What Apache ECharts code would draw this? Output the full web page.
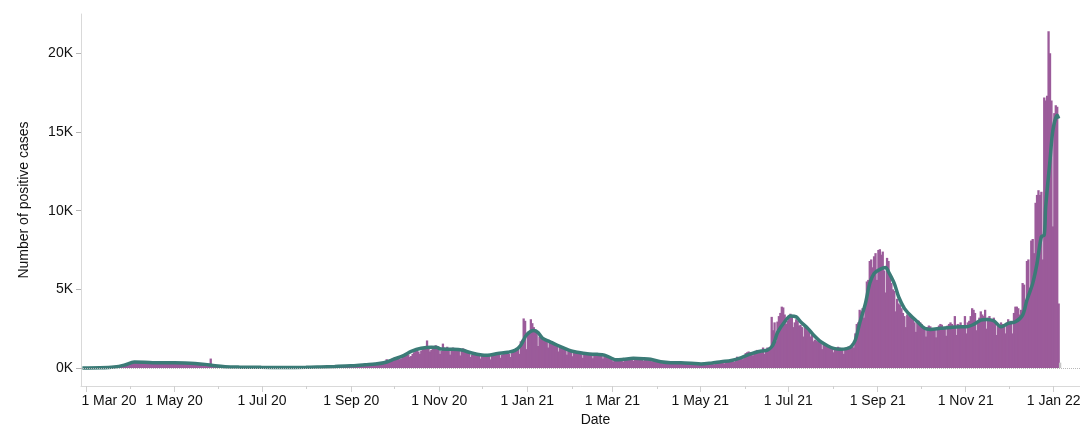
<!DOCTYPE html>
<html><head><meta charset="utf-8">
<script src="https://cdn.jsdelivr.net/npm/echarts@6/dist/echarts.min.js"></script>
<style>html,body{margin:0;padding:0;background:#fff}#c{width:1080px;height:437px}</style>
</head><body><div id="c"></div>
<script>
// ---------- DATA (daily positive cases) ----------
const startDate = '2020-02-27';
const feb20 = [0,5,10];
const mar20 = [3,5,8,6,10,12,15,14,18,20,25,30,35,40,38,45,55,60,70,80,95,90,120,140,160,180,200,220,210,250,280];
const apr20 = [320,350,380,400,360,330,390,420,410,400,380,340,310,360,380,370,390,350,300,280,330,350,340,330,320,290,260,300,340,330];
const may20 = [330,340,310,290,350,360,340,330,320,300,280,330,340,320,300,280,260,240,270,260,240,220,200,190,170,600,150,140,130,120,110];
const jun20 = [90,80,85,75,70,60,55,65,70,60,55,50,45,50,55,50,45,40,45,50,40,35,40,45,40,38,35,40,42,38];
const jul20 = [35,40,38,30,28,35,40,42,38,35,30,28,35,40,45,42,38,32,30,38,42,45,48,44,38,35,42,48,50,52,46];
const aug20 = [45,40,55,60,58,62,65,55,50,60,68,72,70,75,65,60,75,85,90,95,100,90,85,100,115,125,130,135,120,110,130];
const sep20 = [170,180,190,200,180,160,190,210,220,230,240,200,180,220,240,250,260,270,240,220,280,320,360,400,560,450,380,520,600,650];
const oct20 = [640,700,680,560,600,720,780,800,820,850,700,760,900,1000,1100,1150,1050,900,1100,1200,1250,1300,1750,1400,1050,1150,1300,1400,1450,1350,1200];
const nov20 = [900,1100,1550,1300,1250,1350,1200,850,1150,1300,1250,1200,1250,1150,800,1100,1250,1200,1150,1100,1050,700,850,950,1000,950,900,850,600,800];
const dec20 = [850,800,780,820,760,550,800,880,900,950,920,870,650,850,950,1000,1050,980,900,700,950,1050,1100,1150,1200,900,1700,1800,3150,3000,1200];
const jan21 = [2300,2200,3100,2850,2600,2400,2300,1400,2000,1950,1900,1750,1800,1700,1300,1650,1600,1550,1500,1450,1400,1050,1350,1300,1250,1200,1150,850,1100,1050,1000];
const feb21 = [750,1000,980,950,920,900,880,650,900,920,880,900,870,860,620,950,900,880,860,840,830,600,850,820,700,650,600,580];
const mar21 = [420,500,520,540,530,560,500,400,560,580,600,590,620,600,450,640,660,650,630,620,600,450,620,600,590,570,540,420,500,480,460];
const apr21 = [450,420,380,300,330,380,370,360,350,340,260,350,360,350,340,350,330,270,320,320,310,300,300,290,230,280,270,260,260,250];
const may21 = [240,200,190,250,260,270,280,290,280,220,300,320,340,350,360,340,280,380,420,450,470,480,440,380,560,720,700,680,640,560,700];
const jun21 = [950,1000,1050,1000,980,800,950,1100,1150,1100,1080,1000,1300,900,1200,1300,1300,1250,3250,2400,2900,1700,2950,3300,3500,3900,3850,3400,2800,3000];
const jul21 = [3200,3450,3300,2600,2900,3100,3000,2700,2750,2600,2000,2600,2500,2400,2300,2000,2100,1700,1800,1750,1700,1650,1600,1200,1500,1450,1400,1350,1300,1350,1300];
const aug21 = [1000,1250,1300,1350,1300,1250,1150,900,1200,1300,1350,1400,1450,1550,1300,2200,2800,2900,3700,3600,3800,3200,4200,5500,5600,6800,6900,6400,7100,7300,5600];
const sep21 = [7500,7550,7200,7400,6200,4800,7000,6800,5800,5400,5000,4900,3600,4400,4100,4000,3800,3500,3300,2600,3400,3300,3350,3200,3100,2900,2300,3050,3000,2900];
const oct21 = [2800,2600,2500,2000,2600,2700,2650,2550,2500,2450,1950,2550,2700,2800,2750,2600,2500,2050,2700,2800,2900,2800,2700,3300,2100,2800,2750,2900,2700,2650,3300];
const nov21 = [2200,2900,3000,3300,3800,3700,3500,2400,3000,3200,3600,3400,3300,3700,2500,3200,3300,3100,3000,3200,2900,2100,2800,2700,2900,2800,2700,2200,2900,3100];
const dec21 = [2900,3000,2200,3500,3900,3900,3800,3400,3700,5400,5300,4300,6800,6900,5100,8100,8200,7300,10500,11000,11300,11000,11200,6900,17200,17000,17300,21400,20000,17000,9000];
const jan22 = [16200,16700,16600,4100];
const pendingDate = '2022-01-05';
const pendingValue = 340;

// 7-day average line
const avgDates = ['2020-02-27','2020-03-10','2020-03-20','2020-03-27','2020-04-03','2020-04-10','2020-04-17','2020-04-24','2020-05-01','2020-05-08','2020-05-15','2020-05-22','2020-05-29','2020-06-05','2020-06-15','2020-06-30','2020-07-15','2020-07-31','2020-08-10','2020-08-20','2020-08-31','2020-09-10','2020-09-17','2020-09-23','2020-09-30','2020-10-07','2020-10-12','2020-10-19','2020-10-26','2020-10-30','2020-11-02','2020-11-09','2020-11-16','2020-11-23','2020-11-30','2020-12-04','2020-12-11','2020-12-18','2020-12-23','2020-12-27','2020-12-31','2021-01-05','2021-01-08','2021-01-11','2021-01-16','2021-01-21','2021-01-26','2021-01-31','2021-02-04','2021-02-11','2021-02-18','2021-02-23','2021-02-28','2021-03-03','2021-03-08','2021-03-15','2021-03-22','2021-03-27','2021-04-03','2021-04-10','2021-04-17','2021-04-24','2021-05-01','2021-05-08','2021-05-15','2021-05-22','2021-05-29','2021-06-03','2021-06-07','2021-06-12','2021-06-16','2021-06-19','2021-06-21','2021-06-23','2021-06-28','2021-07-02','2021-07-06','2021-07-09','2021-07-14','2021-07-18','2021-07-23','2021-07-28','2021-08-01','2021-08-06','2021-08-10','2021-08-13','2021-08-16','2021-08-19','2021-08-23','2021-08-26','2021-08-29','2021-09-02','2021-09-06','2021-09-08','2021-09-12','2021-09-15','2021-09-19','2021-09-23','2021-09-28','2021-10-03','2021-10-07','2021-10-14','2021-10-21','2021-10-28','2021-11-01','2021-11-06','2021-11-11','2021-11-15','2021-11-20','2021-11-25','2021-11-30','2021-12-05','2021-12-10','2021-12-13','2021-12-17','2021-12-20','2021-12-23','2021-12-25','2021-12-26','2021-12-29','2021-12-31','2022-01-03','2022-01-04'];
const avgValues = [0,10,60,180,380,370,340,330,330,320,290,230,140,80,55,40,38,45,70,100,140,210,250,330,560,800,1050,1250,1320,1300,1200,1190,1140,950,825,810,920,1000,1120,1450,2100,2380,2250,1900,1680,1460,1260,1080,1000,900,870,820,620,520,550,615,590,550,400,340,335,300,250,310,400,480,660,850,970,1080,1140,1350,1700,2250,2940,3300,3250,2940,2520,2100,1670,1400,1250,1185,1230,1350,1780,2840,4110,5380,6010,6270,6390,6115,5380,4530,3790,3365,2940,2520,2455,2520,2580,2620,2620,2770,3050,3090,3000,2620,2840,2940,3365,4320,5380,6650,8340,8450,10240,13200,15110,16060,15850];

// axis ticks
const labelTicks = ['2020-03-01','2020-05-01','2020-07-01','2020-09-01','2020-11-01','2021-01-01','2021-03-01','2021-05-01','2021-07-01','2021-09-01','2021-11-01','2022-01-01'];
const yTicks = [0,5000,10000,15000,20000];

// ---------- BUILD ----------
const DAY = 86400000;
const monthsData = [feb20,mar20,apr20,may20,jun20,jul20,aug20,sep20,oct20,nov20,dec20,jan21,feb21,mar21,apr21,may21,jun21,jul21,aug21,sep21,oct21,nov21,dec21,jan22];
const t0 = Date.parse(startDate + 'T12:00:00Z');
const barData = [];
let k = 0;
monthsData.forEach(m => m.forEach(v => { barData.push([t0 + k * DAY, v]); k++; }));
barData.push({ value: [Date.parse(pendingDate + 'T12:00:00Z'), pendingValue], itemStyle: { color: '#c6c6c6' } });
const lineData = avgDates.map((d, i) => [Date.parse(d + 'T12:00:00Z'), avgValues[i]]);

const MON = ['Jan','Feb','Mar','Apr','May','Jun','Jul','Aug','Sep','Oct','Nov','Dec'];
const fmt = v => { const d = new Date(v); return d.getUTCDate() + ' ' + MON[d.getUTCMonth()] + ' ' + String(d.getUTCFullYear()).slice(2); };
const majorVals = labelTicks.map(s => Date.parse(s + 'T00:00:00Z'));
const minorVals = [];
for (let y = 2020, m = 2; y < 2022 || (y === 2022 && m <= 1); ) {
  minorVals.push(Date.UTC(y, m, 1));
  m++; if (m > 11) { m = 0; y++; }
}
const anchor = Date.UTC(2020, 2, 1);
const xMin = anchor - 3.47 * DAY;
const xMax = anchor + 710.1 * DAY;
const FONT = "'Liberation Sans', Arial, sans-serif";

const chart = echarts.init(document.getElementById('c'), null, { renderer: 'canvas' });
chart.setOption({
  animation: false,
  backgroundColor: '#ffffff',
  grid: { left: 81, right: -30, top: 14, bottom: 51, containLabel: false, outerBoundsMode: 'none' },
  xAxis: [{
    type: 'value', min: xMin, max: xMax, scale: true,
    axisLine: { show: true, onZero: false, lineStyle: { color: '#d9d9d9', width: 1 } },
    axisTick: { show: true, length: 6, customValues: majorVals, lineStyle: { color: '#cfcfcf' } },
    axisLabel: {
      customValues: majorVals, margin: 8, color: '#111', fontSize: 14, fontFamily: FONT,
      formatter: v => (v === majorVals[0] ? '{f|' + fmt(v) + '}' : fmt(v)),
      rich: { f: { padding: [0, 0, 0, 46], fontSize: 14, fontFamily: FONT, color: '#111' } }
    },
    splitLine: { show: false },
    name: 'Date', nameLocation: 'middle', nameGap: 20,
    nameTextStyle: { color: '#111', fontSize: 14, fontFamily: FONT }
  }, {
    type: 'value', min: xMin, max: xMax, scale: true, position: 'bottom',
    axisLine: { show: false, onZero: false },
    axisTick: { show: true, length: 3, customValues: minorVals, lineStyle: { color: '#cfcfcf' } },
    axisLabel: { show: false },
    splitLine: { show: false }
  }],
  yAxis: {
    type: 'value', min: -1144, max: 22500,
    axisLine: { show: true, onZero: false, lineStyle: { color: '#d9d9d9', width: 1 } },
    axisTick: { show: true, length: 5, customValues: yTicks, lineStyle: { color: '#b5b5b5' } },
    axisLabel: { customValues: yTicks, margin: 8, color: '#111', fontSize: 14, fontFamily: FONT,
      formatter: v => (v / 1000) + 'K' },
    splitLine: { show: false },
    name: 'Number of positive cases', nameLocation: 'middle', nameGap: 50,
    nameTextStyle: { color: '#111', fontSize: 14, fontFamily: FONT }
  },
  series: [{
    type: 'bar', xAxisIndex: 0, data: barData, barWidth: 2.3,
    itemStyle: { color: '#9b5b9a' },
    markLine: { silent: true, symbol: 'none', label: { show: false },
      lineStyle: { type: 'dotted', color: '#b8b8b8', width: 1 }, data: [{ yAxis: 0 }] }
  }, {
    type: 'line', xAxisIndex: 0, data: lineData, showSymbol: false, symbol: 'none', smooth: 0.3,
    lineStyle: { color: '#3b7b77', width: 3.5 }, z: 3
  }]
});
</script></body></html>
